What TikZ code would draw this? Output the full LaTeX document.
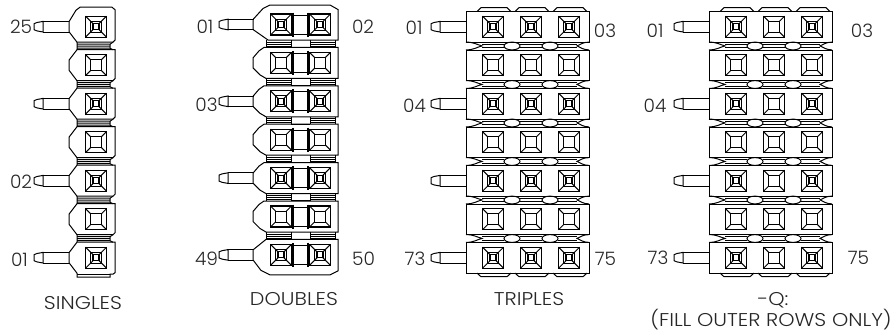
\documentclass[tikz,border=0pt]{standalone}
\usepackage{fontspec}
\setmainfont{Poppins Light}
\newfontfamily\wideface{Poppins Light}[FakeStretch=1.12]
\tikzset{
  x=1pt,y=-1pt,
  ln/.style={line width=1pt,black},
  lbl/.style={font=\fontsize{18.5}{20}\selectfont,text=black!85,inner sep=0pt},
  captxt/.style={font=\wideface\fontsize{18.5}{20}\selectfont,text=black!85,inner sep=0pt},
  sqE/.pic={
    \draw[line width=1.3pt] (-10.5,-10.5) rectangle (10.5,10.5);
    \draw[ln] (-5.5,-5.5) rectangle (5.5,5.5);
    \foreach \a/\b in {-1/-1,1/-1,1/1,-1/1}{\draw[ln] (10.5*\a,10.5*\b) -- (5.5*\a,5.5*\b);}
  },
  sqP/.pic={
    \draw[line width=1.3pt] (-10.5,-10.5) rectangle (10.5,10.5);
    \draw[ln] (-5.5,-5.5) rectangle (5.5,5.5);
    \draw[line width=1.1pt] (-3,-3) rectangle (3,3);
    \foreach \a/\b in {-1/-1,1/-1,1/1,-1/1}{\draw[ln] (10.5*\a,10.5*\b) -- (3*\a,3*\b);}
  },
  pinL/.pic={
    \draw[ln] (9,-5.3) -- (3,-4.2) -- (0,-3) -- (0,3) -- (3,4.2) -- (9,5.3) -- cycle;
    \draw[ln] (9,-5.3) -- (35,-5.3) (9,5.3) -- (35,5.3);
  }
}
\begin{document}
\begin{tikzpicture}
\useasboundingbox (0,0) rectangle (892,333);
% SINGLES
\foreach \i in {0,...,6}{
  \pgfmathsetmacro\yc{26.7+38.5*\i}
  \begin{scope}[shift={(0,\yc)}]
    \ifnum\i=0
      \draw[ln] (77,15.5) -- (69,5) -- (69,-5) -- (76,-16.5) -- (80,-19.5) -- (112,-19.5) -- (115,-17) -- (115,13.5) -- (113,15.5) -- cycle;
    \else\ifnum\i=6
      \draw[ln] (77,-15.5) -- (69,-5) -- (69,5) -- (77,15.5) -- (77,19.5) -- (110,19.5) -- (110,16.5) -- (113,16.5) -- (115,15) -- (115,-15.5) -- cycle;
      \draw[ln] (77,17) -- (110,17);
    \else
      \draw[ln] (77,-15.5) -- (69,-5) -- (69,5) -- (77,15.5) -- (113,15.5) -- (115,13.5) -- (115,-15.5) -- cycle;
    \fi\fi
    \ifnum\i<6
      \draw[ln] (77,15.5) -- (77,23) (77,17.5) -- (110,17.5) (77,19.5) -- (110,19.5) (77,21.5) -- (110,21.5) (113,15.5) -- (110,17.5) -- (110,21.5) -- (113,23);
    \fi
    \ifodd\i
      \pic at (96,0) {sqE};
    \else
      \pic at (96,0) {sqP};
      \pic at (34,0) {pinL};
    \fi
  \end{scope}
}
% DOUBLES
\foreach \i in {0,...,6}{
  \pgfmathsetmacro\yc{24.5+38.4*\i}
  \begin{scope}[shift={(0,\yc)}]
    \ifnum\i=0
      \draw[ln] (268,15.5) -- (253,5) -- (253,-5) -- (263,-16) -- (270,-19.5) -- (330,-19.5) -- (338,-15) -- (338,15.5) -- cycle;
    \else\ifnum\i=6
      \draw[ln] (266,-15.5) -- (253,-5) -- (253,5) -- (261,15.5) -- (270,20) -- (330,20) -- (338,16) -- (338,-15.5) -- cycle;
    \else
      \draw[ln] (264,-15.5) -- (259,-12) -- (253,-5) -- (253,5) -- (260,12) -- (266,15.5) -- (338,15.5) -- (338,-15.5) -- cycle;
    \fi\fi
    \ifnum\i<6
      \foreach \xa/\xb in {266/291,310/335}{
        \draw[ln] (\xa,15.5) -- (\xa,23) (\xb,15.5) -- (\xb,23);
        \draw[ln] (\xa,17.5) -- (\xb,17.5) (\xa,19.5) -- (\xb,19.5) (\xa,21.5) -- (\xb,21.5);
      }
      \draw[ln] (291,22.7) -- (310,22.7);
    \fi
    \draw[ln] (292,-9.5) rectangle (309,9.5);
    \draw[line width=1.3pt] (293,-12) -- (293,12) (308,-12) -- (308,12);
    \ifodd\i
      \pic at (281,0) {sqE};
      \pic at (320,0) {sqE};
    \else
      \pic at (281,0) {sqP};
      \pic at (320,0) {sqP};
      \pic at (219,0) {pinL};
    \fi
  \end{scope}
}
% TRIPLES and -Q
\foreach \xo/\qq in {0/0,243/1}{
 \begin{scope}[shift={(\xo,0)}]
 \foreach \i in {0,...,6}{
  \pgfmathsetmacro\yc{26.7+38.5*\i}
  \begin{scope}[shift={(0,\yc)}]
    \draw[ln] (466,-15.2) rectangle (589,15.4);
    \foreach \xa in {481,519,557}{
      \ifnum\i=0
        \draw[ln] (\xa-4,-15.2) -- (\xa,-19) -- (\xa+26,-19) -- (\xa+30,-15.2);
      \fi
      \ifnum\i=6
        \draw[ln] (\xa-4,15.4) -- (\xa,19) -- (\xa+26,19) -- (\xa+30,15.4);
      \fi
    }
    \ifnum\i<6
      \draw[ln] (466,15.4) .. controls (474,15.4) and (477,18) .. (482,19.2) .. controls (477,20.4) and (474,23.2) .. (466,23.2);
      \draw[ln] (589,15.4) .. controls (583,15.4) and (580,18) .. (577,19.2) .. controls (580,20.4) and (583,23.2) .. (589,23.2);
      \draw[ln] (482,17.6) -- (504,17.6) (482,21) -- (504,21) (520,17.6) -- (542,17.6) (520,21) -- (542,21) (558,17.6) -- (577,17.6) (558,21) -- (577,21);
      \draw[ln] (512,19.3) ellipse (8 and 3.9);
      \draw[ln] (550,19.3) ellipse (8 and 3.9);
    \fi
    \ifodd\i
      \pic at (493,0) {sqE}; \pic at (531,0) {sqE}; \pic at (569,0) {sqE};
    \else
      \pic at (493,0) {sqP};
      \ifnum\qq=1 \pic at (531,0) {sqE}; \else \pic at (531,0) {sqP}; \fi
      \pic at (569,0) {sqP};
      \pic at (431,0) {pinL};
    \fi
  \end{scope}
 }
 \end{scope}
}
% Labels
\node[lbl] (a25) at (21,27) {25};
\node[lbl] (a02) at (21,181.5) {02};
\node[lbl] (a01) at (19.5,259.5) {01};
\node[lbl] (b01) at (205,26.5) {01};
\node[lbl] (b03) at (206.5,105) {03};
\node[lbl] (b49) at (206.5,259) {49};
\node[lbl] (b02) at (363,27) {02};
\node[lbl] (b50) at (363.5,259) {50};
\node[lbl] (c01) at (414,27.5) {01};
\node[lbl] (c03) at (605,31) {03};
\node[lbl] (c04) at (414.5,105.5) {04};
\node[lbl] (c73) at (415,259) {73};
\node[lbl] (c75) at (605.5,259) {75};
\node[lbl] (d01) at (655,31) {01};
\node[lbl] (d03) at (862,31) {03};
\node[lbl] (d04) at (655,106) {04};
\node[lbl] (d73) at (658,258) {73};
\node[lbl] (d75) at (858.5,257.5) {75};
\node[captxt] (s) at (83,303) {SINGLES};
\node[captxt] (t) at (294,299) {DOUBLES};
\node[captxt] (u) at (529,299) {TRIPLES};
\node[captxt] (v) at (773,300) {-Q:};
\node[captxt] (w) at (771,320) {(FILL OUTER ROWS ONLY)};
\end{tikzpicture}
\end{document}
